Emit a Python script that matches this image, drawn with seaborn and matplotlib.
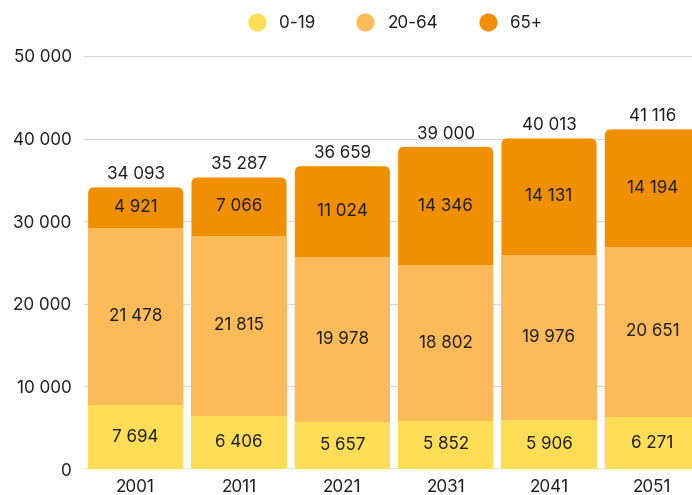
import matplotlib
matplotlib.use("Agg")
import matplotlib.pyplot as plt
import seaborn as sns
from matplotlib.patches import FancyBboxPatch
from matplotlib.lines import Line2D

# data
years = ["2001", "2011", "2021", "2031", "2041", "2051"]
age_0_19 = [7694, 6406, 5657, 5852, 5906, 6271]
age_20_64 = [21478, 21815, 19978, 18802, 19976, 20651]
age_65 = [4921, 7066, 11024, 14346, 14131, 14194]
series_names = ["0-19", "20-64", "65+"]
colors = ["#FFDD57", "#FDBA58", "#F08F00"]

def fmt(v):
    return f"{v:,}".replace(",", " ")

sns.set_theme(style="white")
plt.rcParams["font.family"] = ["Inter", "DejaVu Sans"]
TXT = "#1f1f1f"
FS = 12.3

fig = plt.figure(figsize=(6.92, 4.95), dpi=100)
ax = fig.add_axes([84 / 692, 26 / 495, 620 / 692, 413 / 495])

lower = [a + b for a, b in zip(age_0_19, age_20_64)]
totals = [a + b for a, b in zip(lower, age_65)]

# stacked via cumulative layers, back to front
bar_kw = dict(width=0.92, saturation=1, ax=ax, linewidth=0, edgecolor="none")
sns.barplot(x=years, y=totals, color=colors[2], zorder=2, **bar_kw)
sns.barplot(x=years, y=lower, color=colors[1], zorder=3, **bar_kw)
sns.barplot(x=years, y=age_0_19, color=colors[0], zorder=4, **bar_kw)

ax.set_xlim(-0.5, 5.5)
ax.set_ylim(0, 50000)

# swap the top layer for rounded boxes
px_x = 620 / 6.0
px_y = 413 / 50000.0
r = 6 / px_x
aspect = (1 / px_y) / (1 / px_x)
for p in list(ax.patches[:len(years)]):
    x0, w, h = p.get_x(), p.get_width(), p.get_height()
    p.set_visible(False)
    box = FancyBboxPatch((x0, 0), w, h,
                         boxstyle=f"round,pad=0,rounding_size={r}",
                         mutation_aspect=aspect, facecolor=colors[2],
                         edgecolor="none", linewidth=0, zorder=2)
    ax.add_patch(box)

# labels
for i in range(len(years)):
    ax.text(i, age_0_19[i] / 2, fmt(age_0_19[i]), ha="center", va="center",
            fontsize=FS, color=TXT, zorder=6)
    ax.text(i, age_0_19[i] + age_20_64[i] / 2, fmt(age_20_64[i]), ha="center",
            va="center", fontsize=FS, color=TXT, zorder=6)
    ax.text(i, lower[i] + age_65[i] / 2, fmt(age_65[i]), ha="center",
            va="center", fontsize=FS, color=TXT, zorder=6)
    ax.annotate(fmt(totals[i]), (i, totals[i]), xytext=(0, 3),
                textcoords="offset points", ha="center", va="bottom",
                fontsize=FS, color=TXT, annotation_clip=False)

ticks = [0, 10000, 20000, 30000, 40000, 50000]
ax.set_yticks(ticks)
ax.set_yticklabels([fmt(t) for t in ticks])
ax.yaxis.grid(True, color="#d9d9d9", linewidth=1, zorder=0)
ax.set_axisbelow(True)
ax.axhline(0, color="#8a8a8a", linewidth=1, zorder=1)
for s in ax.spines.values():
    s.set_visible(False)
ax.tick_params(axis="both", length=0, labelsize=FS, colors=TXT)
ax.tick_params(axis="y", pad=9)
ax.tick_params(axis="x", pad=7)
ax.set_xlabel("")
ax.set_ylabel("")

handles = [Line2D([0], [0], marker="o", linestyle="", markersize=13,
                  markerfacecolor=c, markeredgecolor="none") for c in colors]
fig.legend(handles, series_names, loc="center", bbox_to_anchor=(0.565, 0.952),
           ncol=3, frameon=False, fontsize=FS, handletextpad=0.3,
           columnspacing=1.9, labelcolor=TXT)

fig.savefig("out.png", dpi=100)
